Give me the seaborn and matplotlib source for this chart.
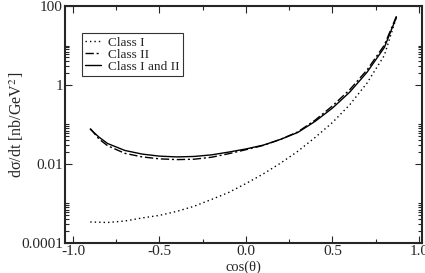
import matplotlib
matplotlib.use("Agg")
import matplotlib.pyplot as plt
import seaborn as sns
import pandas as pd

# values (cos(theta), dsigma/dt in nb/GeV^2)
cos_theta = [-0.9, -0.85, -0.8, -0.7, -0.6, -0.5, -0.4, -0.3, -0.2, -0.1,
             0.0, 0.1, 0.2, 0.3, 0.4, 0.5, 0.6, 0.7, 0.8, 0.87]
class_1 = [3.4e-4, 3.35e-4, 3.3e-4, 3.6e-4, 4.3e-4, 5.0e-4, 6.3e-4, 8.5e-4, 1.26e-3, 1.9e-3,
           3.2e-3, 5.6e-3, 1.05e-2, 2.1e-2, 4.7e-2, 0.112, 0.316, 1.12, 5.6, 52.0]
class_2 = [0.079, 0.043, 0.029, 0.0186, 0.0151, 0.0135, 0.0129, 0.0132, 0.0148, 0.0182,
           0.023, 0.0295, 0.042, 0.065, 0.129, 0.295, 0.76, 2.4, 10.2, 55.0]
class_12 = [0.076, 0.048, 0.033, 0.022, 0.0178, 0.0158, 0.0151, 0.0155, 0.0170, 0.020,
            0.024, 0.030, 0.042, 0.063, 0.12, 0.26, 0.66, 2.1, 8.9, 52.0]
series_names = ["Class I", "Class II", "Class I and II"]
x_ticks = [-1.0, -0.5, 0.0, 0.5, 1.0]
x_tick_labels = ["-1.0", "-0.5", "0.0", "0.5", "1.0"]
y_ticks = [1e-4, 1e-2, 1, 100]
y_tick_labels = ["0.0001", "0.01", "1", "100"]

sns.set_style("ticks")
plt.rcParams["font.family"] = ["Liberation Serif", "DejaVu Serif"]
plt.rcParams["mathtext.fontset"] = "stix"

df = pd.DataFrame({"cos": cos_theta * 3,
                   "val": class_1 + class_2 + class_12,
                   "series": [s for s in series_names for _ in cos_theta]})

fig = plt.figure(figsize=(4.25, 2.73), dpi=100)
ax = fig.add_axes([0.153, 0.11, 0.84, 0.868])

styles = {"Class I": (0, (1, 2.2)), "Class II": (0, (6, 2, 1.5, 2)), "Class I and II": "-"}
for name in series_names:
    sns.lineplot(data=df[df.series == name], x="cos", y="val", ax=ax, color="black",
                 linewidth=1.0, linestyle=styles[name], label=name)

ax.set_yscale("log")
ax.set_xlim(-1.046, 1.018)
ax.set_ylim(1e-4, 100)
ax.set_xticks(x_ticks)
ax.set_xticklabels(x_tick_labels)
ax.set_xticks([-0.75, -0.25, 0.25, 0.75], minor=True)
ax.set_yticks(y_ticks)
ax.set_yticklabels(y_tick_labels)
minor_y = [b * k for b in [1e-4, 1e-2, 1] for k in range(2, 11)]
ax.set_yticks(minor_y, minor=True)
ax.set_yticklabels([], minor=True)
ax.tick_params(which="both", direction="in", top=True, right=True, labelsize=11, width=0.8)
ax.tick_params(which="major", length=5, pad=1.5)
ax.tick_params(which="minor", length=3)
for sp in ax.spines.values():
    sp.set_linewidth(1.5)

ax.set_xlabel("cos(θ)", fontsize=10.5)
ax.xaxis.set_label_coords(0.5, -0.072)
ax.set_ylabel("dσ/dt [nb/GeV$^2$]", fontsize=11.5)
ax.yaxis.set_label_coords(-0.11, 0.5)

leg = ax.legend(loc="upper left", bbox_to_anchor=(0.048, 0.886), fontsize=9.5, frameon=True,
                fancybox=False, edgecolor="black", handlelength=1.2, borderpad=0.25,
                labelspacing=0.0, handletextpad=0.5, borderaxespad=0)
leg.get_frame().set_linewidth(0.8)

fig.savefig("out.png", dpi=100)
